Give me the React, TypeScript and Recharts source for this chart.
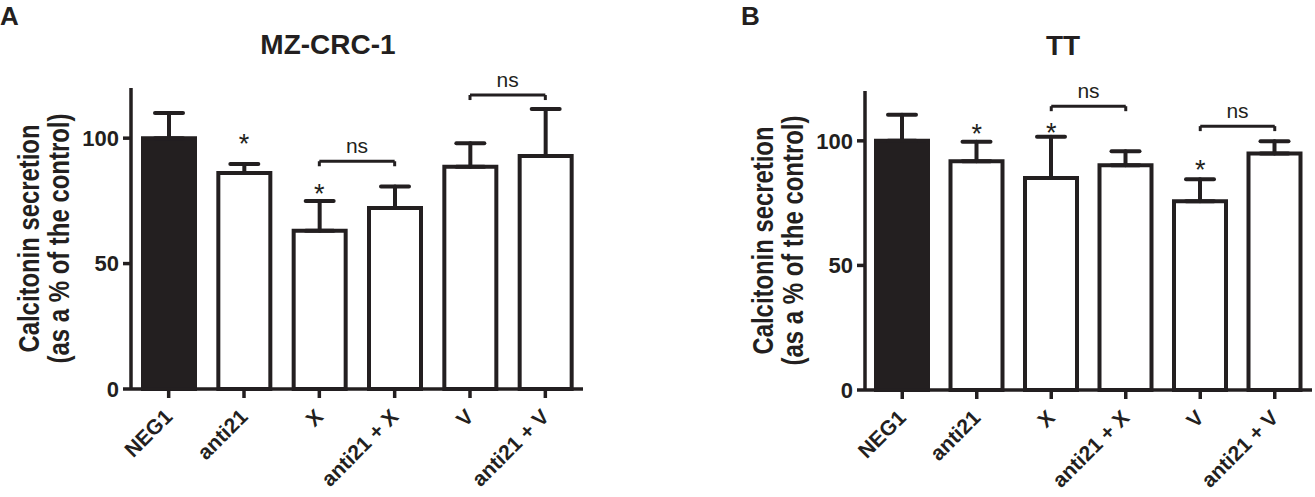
import { BarChart, Bar, XAxis, YAxis, ErrorBar, Cell, ReferenceLine, ReferenceDot, Label } from 'recharts'

const INK = '#231f20'
const FONT = '"Liberation Sans", Arial, Helvetica, sans-serif'

const groups = ['NEG1', 'anti21', 'X', 'anti21 + X', 'V', 'anti21 + V']
const yTicks = [0, 50, 100]

// MZ-CRC-1 panel
const mzMeans = [100, 86.1, 63.1, 72.2, 88.6, 92.9]
const mzErrors = [10, 3.6, 11.9, 8.5, 9.4, 18.7]
const mzStars = [
  { group: 'anti21', level: 100.1 },
  { group: 'X', level: 80.1 },
]
const mzBrackets = [
  { from: 'X', to: 'anti21 + X', level: 90.8 },
  { from: 'V', to: 'anti21 + V', level: 117.2 },
]

// TT panel
const ttMeans = [100, 91.8, 85.1, 90.2, 75.8, 94.9]
const ttErrors = [10.5, 7.8, 16.5, 5.6, 8.8, 4.9]
const ttStars = [
  { group: 'anti21', level: 105 },
  { group: 'X', level: 105.6 },
  { group: 'V', level: 90.6 },
]
const ttBrackets = [
  { from: 'X', to: 'anti21 + X', level: 113.9 },
  { from: 'V', to: 'anti21 + V', level: 105.9 },
]

const BRACKET_DROP = 2

type Star = { group: string; level: number }
type Bracket = { from: string; to: string; level: number }

const SlantTick = ({ x, y, payload }: any) => (
  <g transform={`translate(${x + 5},${y + 18})`}>
    <text
      textAnchor="end"
      transform="rotate(-45)"
      fontSize={21}
      fontWeight="bold"
      fontFamily={FONT}
      fill={INK}
    >
      {payload.value}
    </text>
  </g>
)

const YTitle = ({ viewBox }: any) => {
  const { x, y, width, height } = viewBox
  const right = x + width
  const cy = y + height / 2
  const common = {
    textAnchor: 'middle' as const,
    dominantBaseline: 'central' as const,
    fontSize: 29,
    fontWeight: 'bold',
    fontFamily: FONT,
    fill: INK,
    lengthAdjust: 'spacingAndGlyphs' as const,
  }
  return (
    <g>
      <text {...common} textLength={228} transform={`translate(${right - 102},${cy}) rotate(-90)`}>
        Calcitonin secretion
      </text>
      <text {...common} textLength={250} transform={`translate(${right - 72},${cy}) rotate(-90)`}>
        (as a % of the control)
      </text>
    </g>
  )
}

interface PanelProps {
  means: number[]
  errors: number[]
  stars: Star[]
  brackets: Bracket[]
  width: number
  height: number
  axisWidth: number
  margin: { top: number; right: number; left: number; bottom: number }
  xAxisHeight: number
}

function Panel({ means, errors, stars, brackets, width, height, axisWidth, margin, xAxisHeight }: PanelProps) {
  const data = groups.map((g, i) => ({
    group: g,
    mean: means[i],
    err: [0, errors[i]],
  }))

  return (
    <BarChart width={width} height={height} data={data} margin={margin}>
      <XAxis
        dataKey="group"
        height={xAxisHeight}
        interval={0}
        tick={<SlantTick />}
        tickSize={9}
        axisLine={{ stroke: INK, strokeWidth: 3.5 }}
        tickLine={{ stroke: INK, strokeWidth: 3.5 }}
      />
      <YAxis
        width={axisWidth}
        domain={[0, 120]}
        ticks={yTicks}
        tickSize={8}
        tickMargin={4}
        axisLine={{ stroke: INK, strokeWidth: 3.5 }}
        tickLine={{ stroke: INK, strokeWidth: 3.5 }}
        tick={{ fontSize: 22, fontWeight: 'bold', fill: INK, fontFamily: FONT }}
      >
        <Label content={<YTitle />} />
      </YAxis>
      <Bar dataKey="mean" barSize={52} stroke={INK} strokeWidth={4} isAnimationActive={false}>
        {data.map((d, i) => (
          <Cell key={d.group} fill={i === 0 ? INK : '#ffffff'} />
        ))}
        <ErrorBar
          dataKey="err"
          width={14}
          stroke={INK}
          strokeWidth={4}
          strokeLinecap="round"
          isAnimationActive={false}
        />
      </Bar>

      {brackets.map((b) => (
        <ReferenceLine
          key={b.from + b.level}
          segment={[{ x: b.from, y: b.level }, { x: b.to, y: b.level }]}
          stroke={INK}
          strokeWidth={3}
          label={{ value: 'ns', position: 'top', offset: 8, fontSize: 21, fill: INK, fontFamily: FONT }}
        />
      ))}
      {brackets.flatMap((b) =>
        [b.from, b.to].map((g) => (
          <ReferenceLine
            key={g + b.level}
            segment={[{ x: g, y: b.level }, { x: g, y: b.level - BRACKET_DROP }]}
            stroke={INK}
            strokeWidth={3}
          />
        ))
      )}

      {stars.map((s) => (
        <ReferenceDot
          key={s.group}
          x={s.group}
          y={s.level}
          r={1}
          shape={(p: any) => (
            <text
              x={p.cx}
              y={p.cy + 15}
              textAnchor="middle"
              fontSize={27}
              fontFamily={FONT}
              fill={INK}
            >
              *
            </text>
          )}
        />
      ))}
    </BarChart>
  )
}

const headStyle = (left: number, top: number, size: number, w: number, align: 'left' | 'center') => ({
  position: 'absolute' as const,
  left,
  top,
  width: w,
  textAlign: align,
  fontFamily: FONT,
  fontWeight: 'bold' as const,
  fontSize: size,
  lineHeight: `${size}px`,
  color: INK,
})

export default function App() {
  return (
    <div style={{ position: 'absolute', left: 0, top: 0, width: 1315, height: 497, background: '#fff' }}>
      <div style={{ position: 'absolute', left: 0, top: 0 }}>
        <Panel
          means={mzMeans}
          errors={mzErrors}
          stars={mzStars}
          brackets={mzBrackets}
          width={600}
          height={497}
          axisWidth={131}
          margin={{ top: 88, right: 17, left: 0, bottom: 0 }}
          xAxisHeight={108}
        />
      </div>
      <div style={{ position: 'absolute', left: 740, top: 0 }}>
        <Panel
          means={ttMeans}
          errors={ttErrors}
          stars={ttStars}
          brackets={ttBrackets}
          width={575}
          height={497}
          axisWidth={125}
          margin={{ top: 91, right: 3, left: 0, bottom: 0 }}
          xAxisHeight={107}
        />
      </div>
      <div style={headStyle(0, 3, 26, 40, 'left')}>A</div>
      <div style={headStyle(741, 3, 26, 40, 'left')}>B</div>
      <div style={headStyle(228, 31, 28, 200, 'center')}>MZ-CRC-1</div>
      <div style={headStyle(963, 32, 28, 200, 'center')}>TT</div>
    </div>
  )
}
